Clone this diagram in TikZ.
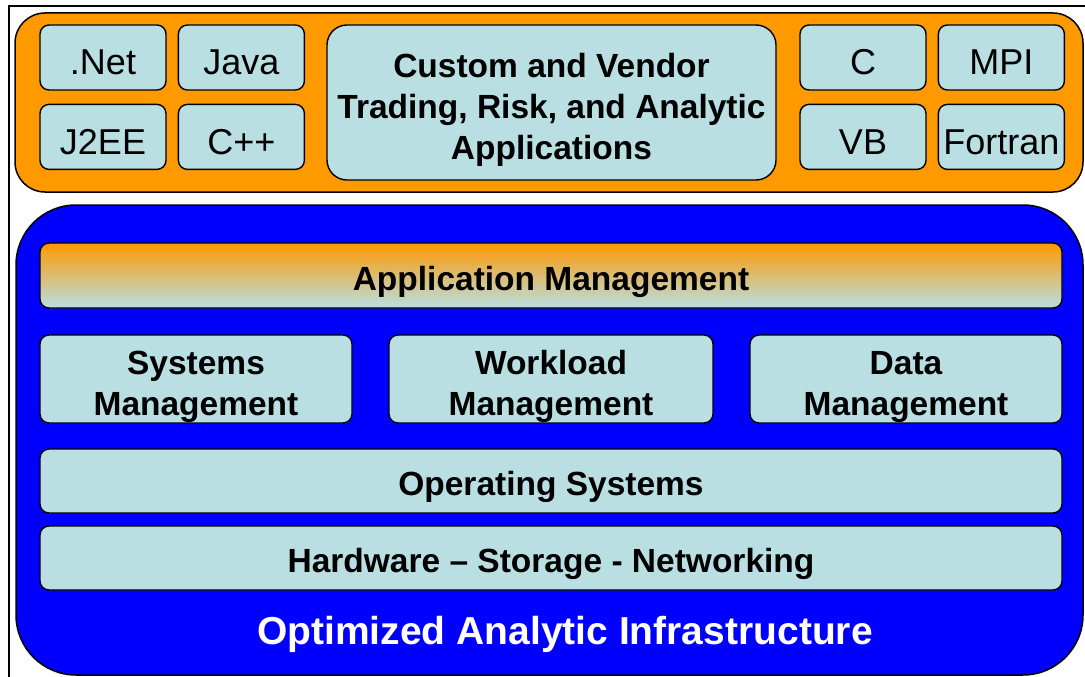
\documentclass[tikz,border=0pt]{standalone}
\usepackage{fontspec}
\setmainfont{Liberation Sans}
\definecolor{app-orange}{HTML}{FF9900}
\definecolor{infra-blue}{HTML}{0000FF}
\definecolor{tile-blue}{HTML}{B9DFE3}
\usetikzlibrary{positioning}
\newcommand{\leadstrut}{\rule{0pt}{39pt}}

\begin{document}
\begin{tikzpicture}[x=1pt, y=-1pt, node distance=13pt and 11pt,
  panel/.style={rectangle, draw=black, line width=1.5pt, inner sep=0pt},
  lang/.style={rectangle, rounded corners=9pt, draw=black, line width=1.4pt,
               fill=tile-blue, minimum width=126pt, minimum height=65pt,
               inner sep=0pt, font=\fontsize{36}{40}\selectfont,
               execute at begin node=\rule{0pt}{35pt}},
  layer/.style={rectangle, rounded corners=9pt, draw=black, line width=1.4pt,
                fill=tile-blue, align=center, inner sep=0pt,
                font=\bfseries\fontsize{33.5}{41}\selectfont,
                execute at begin node=\rule{0pt}{37pt}}]

  \useasboundingbox (0,0) rectangle (1085,677);
  \draw[line width=1.2pt] (9,6) rectangle (1100,700);

  % application tier
  \node[panel, fill=app-orange, rounded corners=30pt,
        minimum width=1068pt, minimum height=179pt] (apps) at (549,102.5) {};
  \node[lang] (net) at (103,57.5) {.Net};
  \node[lang, right=of net] (java) {Java};
  \node[lang, below=of net] (jee) {J2EE};
  \node[lang, right=of jee] (cpp) {C++};
  \node[layer, rounded corners=20pt, minimum width=449pt, minimum height=155pt]
        (custom) at (551.5,102.5) {\leadstrut Custom and Vendor\\Trading, Risk, and Analytic\\Applications};
  \node[lang] (c) at (863,57.5) {C};
  \node[lang, right=of c] (mpi) {MPI};
  \node[lang, below=of c] (vb) {VB};
  \node[lang, right=of vb] (fortran) {Fortran};

  % infrastructure tier
  \node[panel, fill=infra-blue, rounded corners=60pt,
        minimum width=1067pt, minimum height=470pt] (infra) at (549.5,440) {};
  \node[layer, top color=app-orange, bottom color=tile-blue,
        minimum width=1022pt, minimum height=65pt] (appmgmt) at (551,275.5) {Application Management};
  \node[layer, minimum width=312pt, minimum height=88pt] (sysmgmt) at (196,379) {\leadstrut Systems\\Management};
  \node[layer, minimum width=324pt, minimum height=88pt] (workmgmt) at (551,379) {\leadstrut Workload\\Management};
  \node[layer, minimum width=312pt, minimum height=88pt] (datamgmt) at (906,379) {\leadstrut Data\\Management};
  \node[layer, minimum width=1022pt, minimum height=64pt] (os) at (551,481) {Operating Systems};
  \node[layer, minimum width=1022pt, minimum height=64pt] (hw) at (551,558) {Hardware -- Storage - Networking};
  \node[text=white, font=\bfseries\fontsize{39}{44}\selectfont] (title) at (565,634) {Optimized Analytic Infrastructure};

\end{tikzpicture}
\end{document}
